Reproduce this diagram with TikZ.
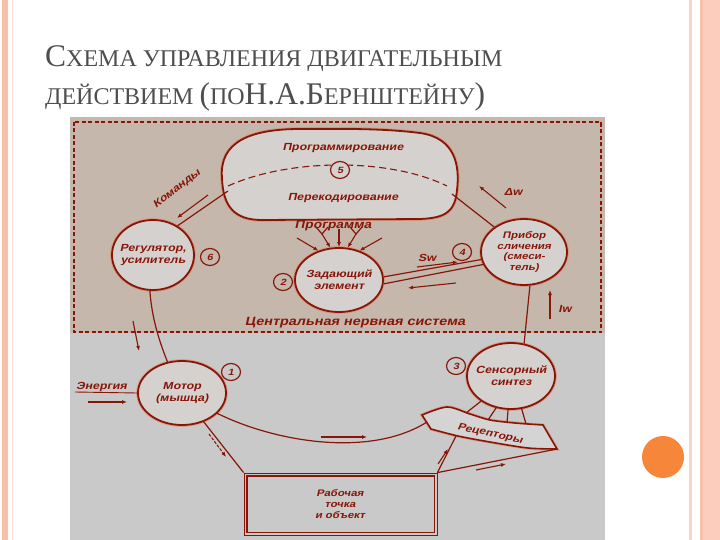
\documentclass[tikz,border=0pt]{standalone}
\usepackage{fontspec}
\setmainfont{Liberation Serif}
\newfontfamily\dfont[FakeStretch=1.2,FakeSlant=0.22]{Liberation Sans Bold}
\usetikzlibrary{arrows.meta,shapes.geometric}
\definecolor{taupe}{RGB}{198,183,173}
\definecolor{lgray}{RGB}{201,201,201}
\definecolor{efill}{RGB}{212,209,207}
\definecolor{dred}{RGB}{135,22,8}
\definecolor{halo}{RGB}{226,122,82}
\definecolor{salmon}{RGB}{249,192,168}
\definecolor{salmonl}{RGB}{252,205,188}
\definecolor{ttl}{RGB}{78,78,78}
\definecolor{orng}{RGB}{246,135,58}
\newcommand\dtext{\dfont\fontsize{10.3}{12}\selectfont}
\newcommand\bigc[1]{{\fontsize{31.5}{34}\selectfont #1}}
\newcommand\smc[1]{{\fontsize{24}{28}\selectfont #1}}
\tikzset{
  ell/.style={ellipse, draw=dred, line width=1.8pt, fill=efill, inner xsep=-14pt, inner ysep=0pt,
    preaction={draw=halo, line width=3.6pt, opacity=0.55}, align=center, text=dred, font=\dtext},
  num/.style={ellipse, draw=dred, line width=1.2pt, minimum width=19pt, minimum height=17pt,
    inner sep=0pt, text=dred, font=\dfont\fontsize{9}{10}\selectfont},
  lbl/.style={text=dred, font=\dtext, inner sep=0pt},
  ln/.style={draw=dred, line width=1.2pt},
  arr/.style={draw=dred, line width=1.1pt, -{Latex[length=5pt,width=4pt]}},
}
\begin{document}
\begin{tikzpicture}[x=1pt,y=-1pt]
\useasboundingbox (0,0) rectangle (720,540);
\fill[white] (0,0) rectangle (720,540);
% page decoration
\fill[salmon] (2,0) rectangle (8,540);
\fill[salmonl!60] (12,0) rectangle (13,540);
\fill[salmon!70] (689,0) rectangle (691.5,540);
\fill[salmon] (700,0) rectangle (703,540);
\fill[salmonl] (703,0) rectangle (720,540);
\fill[orng] (663,457) circle (21);
% title
\node[anchor=base west, text=ttl, inner sep=0pt] (t1) at (45,67)
  {\bigc{С}\smc{ХЕМА УПРАВЛЕНИЯ ДВИГАТЕЛЬНЫМ}};
\node[anchor=base west, text=ttl, inner sep=0pt] (t2) at (45,105)
  {\smc{ДЕЙСТВИЕМ }\bigc{(}\smc{ПО}\bigc{Н.А.Б}\smc{ЕРНШТЕЙНУ}\bigc{)}};
% diagram background
\fill[lgray] (70,117) rectangle (605,540);
\fill[taupe] (70,117) rectangle (605,333);
\draw[dred, line width=1.6pt, dash pattern=on 4pt off 2.5pt] (74,122) rectangle (601,332);
\node[lbl, font=\dfont\fontsize{12}{14}\selectfont] (cns) at (355,323) {Центральная нервная система};
% blob
\draw[draw=dred, line width=1.8pt, fill=efill, preaction={draw=halo, line width=3.6pt, opacity=0.55}]
  (222,178) .. controls (219,142) and (250,129) .. (300,129)
  .. controls (340,129) and (380,128) .. (420,133)
  .. controls (455,138) and (460,165) .. (457,190)
  .. controls (455,212) and (445,218) .. (420,219)
  -- (262,220)
  .. controls (234,220) and (223,206) .. (222,178) -- cycle;
\draw[dred, line width=1.1pt, dash pattern=on 7pt off 4pt] (228,186) .. controls (290,158) and (390,158) .. (447,186);
\node[lbl] (prog) at (343,148) {Программирование};
\node[num, fill=efill] (n5) at (340,170) {5};
\node[lbl] (perek) at (343,198) {Перекодирование};
\node[lbl, font=\dfont\fontsize{11.5}{12}\selectfont] (progr) at (333,226) {Программа};
\coordinate (blobL) at (228,191);
\coordinate (blobR) at (452,194);
% main nodes
\node[ell, minimum width=82pt, minimum height=70pt] (reg) at (153,255) {Регулятор,\\усилитель};
\node[num] (n6) at (210,257) {6};
\node[ell, minimum width=88pt, minimum height=64pt] (zad) at (339,280) {Задающий\\элемент};
\node[num] (n2) at (283,282) {2};
\node[ell, minimum width=86pt, minimum height=66pt, font=\dfont\fontsize{9.5}{10.5}\selectfont] (comp) at (524,252) {Прибор\\сличения\\(смеси-\\тель)};
\node[num] (n4) at (462,252) {4};
\node[ell, minimum width=88pt, minimum height=64pt] (mot) at (182,393) {Мотор\\(мышца)};
\node[num] (n1) at (231,372) {1};
\node[ell, minimum width=88pt, minimum height=66pt] (sens) at (511,376) {Сенсорный\\синтез};
\node[num] (n3) at (456,366) {3};
% receptors band
\draw[draw=dred, line width=1.6pt, fill=lgray!80!white, preaction={draw=halo, line width=3.2pt, opacity=0.5}]
  plot[smooth] coordinates {(422,415) (447,407) (470,414) (490,420) (515,423) (543,425)}
  -- (557,449)
  -- plot[smooth] coordinates {(557,449) (528,448) (490,442) (458,436) (431,429)} -- cycle;
\node[lbl, rotate=-12, font=\dfont\fontsize{10}{12}\selectfont] (rec) at (490,434) {Рецепторы};
\coordinate (bs1) at (466,413);
\coordinate (bs2) at (488,420);
\coordinate (bs3) at (507,423);
\coordinate (bs4) at (526,424);
\draw[ln] (sens.-140) -- (bs1);
\draw[ln] (sens.-115) -- (bs2);
\draw[ln] (sens.-95) -- (bs3);
\draw[ln] (sens.-72) -- (bs4);
\coordinate (bandL) at (427,422);
\coordinate (bandM) at (456,436);
\coordinate (bandR) at (557,449);
% work rectangle
\node[draw=dred, line width=0.8pt, fill=lgray, minimum width=193pt, minimum height=62pt, inner sep=0pt] (work) at (340.5,504) {};
\draw[dred, line width=1.8pt] ([xshift=3pt,yshift=-3pt]work.north west) rectangle ([xshift=-3pt,yshift=3pt]work.south east);
\node[lbl, align=center, font=\dfont\fontsize{9.5}{11}\selectfont] (worktxt) at (340,504) {Рабочая\\точка\\и объект};
% loop connectors
\draw[ln] (blobL) -- (reg.50);
\draw[ln] (blobR) -- (comp.140);
\draw[ln] (comp.-80) -- (sens.68);
\draw[ln] (reg.265) .. controls +(2,28) and +(-8,-20) .. (mot.115);
\draw[ln] (mot.-30) .. controls (275,442) and (370,458) .. (bandL);
\draw[ln] (mot.-53) -- (work.north west);
\draw[ln] (work.north east) -- (bandM);
\draw[ln] (work.north east) -- (bandR);
\draw[ln] (zad.4) -- (comp.190);
\draw[ln] (zad.-5) -- (comp.197);
% labels and arrows
\node[lbl, rotate=38] (kom) at (177,189) {Команды};
\coordinate (ka) at (208,195); \coordinate (kb) at (177,218);
\draw[arr] (ka) -- (kb);
\node[lbl] (dw) at (513,192) {Δw};
\coordinate (da) at (506,208); \coordinate (db) at (479,186);
\draw[arr] (da) -- (db);
\node[lbl] (sw) at (427,258) {Sw};
\coordinate (sa) at (417,267); \coordinate (sb) at (458,262);
\draw[arr] (sa) -- (sb);
\coordinate (la) at (456,283); \coordinate (lb) at (408,288);
\draw[arr] (la) -- (lb);
\node[lbl] (iw) at (565,309) {Iw};
\coordinate (ia) at (550,319); \coordinate (ib) at (550,290);
\draw[arr] (ia) -- (ib);
\coordinate (ra) at (133,321); \coordinate (rb) at (139,351);
\draw[arr] (ra) -- (rb);
\node[lbl, anchor=base west] (en) at (76,389) {Энергия};
\coordinate (ena) at (75,392);
\draw[ln, line width=0.9pt] (ena) -- (mot.west);
\coordinate (eaa) at (88,402); \coordinate (eab) at (127,402);
\draw[arr] (eaa) -- (eab);
\coordinate (ma) at (321,437); \coordinate (mb) at (367,437);
\draw[arr] (ma) -- (mb);
\coordinate (wa) at (209,434); \coordinate (wb) at (226,457);
\draw[arr, dash pattern=on 3pt off 1.5pt] (wa) -- (wb);
\coordinate (xa) at (438,464); \coordinate (xb) at (448,449);
\draw[arr] (xa) -- (xb);
\coordinate (ya) at (476,470); \coordinate (yb) at (506,464);
\draw[arr] (ya) -- (yb);
% dendrites into the setting element
\coordinate (d1a) at (297,238);
\draw[arr] (d1a) -- (zad.125);
\coordinate (d2a) at (322,234); \coordinate (d2l) at (316,227); \coordinate (d2r) at (328,227);
\draw[ln] (d2l) -- (d2a) -- (d2r);
\draw[arr] (d2a) -- (zad.105);
\coordinate (d3a) at (339,229);
\draw[arr] (d3a) -- (zad.north);
\coordinate (d4a) at (356,234); \coordinate (d4l) at (350,227); \coordinate (d4r) at (362,227);
\draw[ln] (d4l) -- (d4a) -- (d4r);
\draw[arr] (d4a) -- (zad.75);
\coordinate (d5a) at (382,238);
\draw[arr] (d5a) -- (zad.55);
\end{tikzpicture}
\end{document}
